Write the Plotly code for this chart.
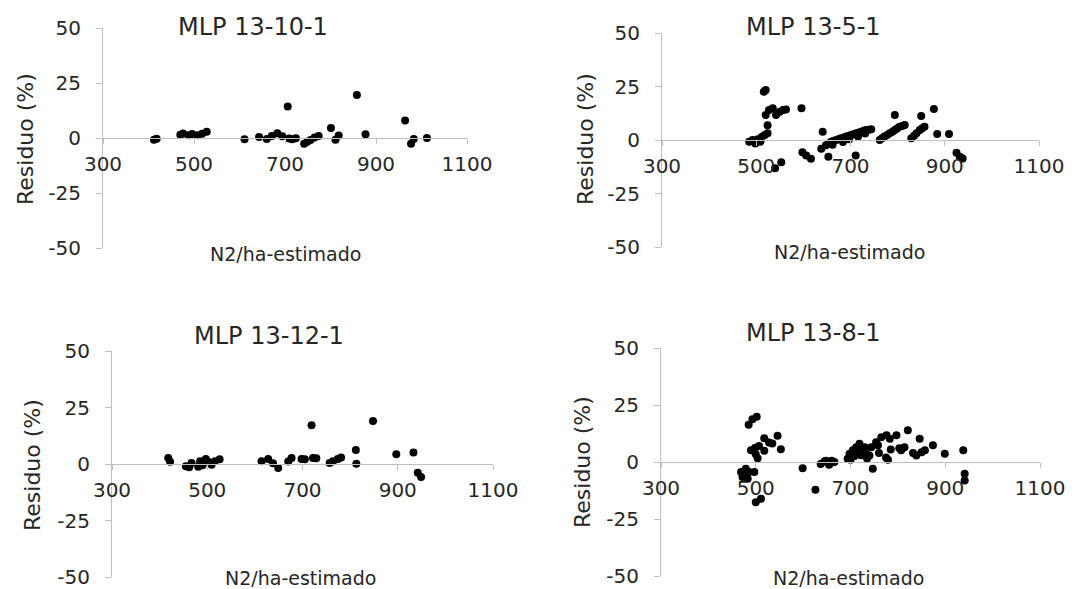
import plotly.graph_objects as go

# ---------------- data ----------------
titles = ["MLP 13-10-1", "MLP 13-5-1", "MLP 13-12-1", "MLP 13-8-1"]
x_label = "N2/ha-estimado"
y_label = "Residuo (%)"
x_ticks = [300, 500, 700, 900, 1100]
y_ticks = [-50, -25, 0, 25, 50]

x_1310 = [412, 418, 470, 476, 488, 496, 508, 518, 528, 611, 643, 660, 671, 683, 694, 706, 709,
          716, 724, 742, 749, 756, 765, 774, 801, 811, 818, 858, 877, 964, 977, 983, 1012]
y_1310 = [-0.8, -0.3, 1.5, 2.0, 1.3, 1.8, 1.2, 1.9, 2.8, -0.6, 0.4, -0.4, 0.9, 2.2, 0.8, 14.3, -0.2,
          -0.6, -0.1, -2.6, -1.7, -0.9, 0.2, 0.9, 4.6, -0.8, 1.1, 19.6, 1.7, 7.9, -2.6, -0.4, 0.0]

x_135 = [485, 492, 498, 503, 509, 512, 518, 524, 524, 520, 527, 535, 542, 550, 557, 563, 516, 520,
         540, 553, 596, 598, 606, 616, 638, 641, 648, 653, 655, 659, 664, 670, 675, 680, 686, 691,
         696, 701, 706, 711, 712, 718, 723, 728, 733, 739, 744, 762, 767, 772, 778, 783, 789, 794,
         799, 804, 810, 815, 794, 829, 835, 840, 847, 852, 857, 850, 877, 884, 909, 925, 932, 938,
         662, 684, 697, 716, 731]
y_135 = [-0.8, 0.0, -1.6, 0.3, -0.8, 1.5, 2.3, 3.1, 6.9, 11.7, 14.0, 14.8, 11.7, 13.2, 14.0, 14.3,
         22.6, 23.4, -13.2, -10.4, 14.8, -5.7, -7.2, -8.8, -4.1, 3.9, -2.5, -7.8, -1.5, -0.8, -0.3,
         0.0, 0.5, 0.8, 1.2, 1.6, 1.9, 2.3, 2.7, -7.2, 3.1, 3.5, 3.9, 4.3, 4.7, 4.8, 5.0, 0.0, 0.8,
         1.6, 2.3, 3.1, 3.9, 4.7, 5.4, 6.2, 6.6, 7.0, 11.7, 0.8, 2.0, 3.1, 4.7, 5.5, 6.2, 11.2, 14.5,
         2.8, 2.8, -5.9, -7.8, -8.6,
         -2.2, -0.9, 0.4, 1.6, 3.0]

x_1312 = [418, 422, 455, 462, 467, 481, 485, 490, 497, 503, 509, 516, 526, 614, 628, 638, 649, 670,
          677, 698, 705, 719, 722, 729, 757, 764, 774, 781, 812, 813, 848, 897, 933, 942, 949]
y_1312 = [2.6, 1.0, -1.0, -1.4, 0.4, -1.2, 1.2, -0.5, 2.2, 0.9, -0.3, 1.2, 2.1, 1.2, 2.2, 0.3, -1.8,
          1.1, 2.6, 2.2, 2.1, 17.1, 2.6, 2.5, 0.4, 1.2, 2.2, 2.9, 6.2, 0.1, 19.0, 4.3, 5.1, -3.9, -5.7]

x_138 = [469, 472, 476, 479, 483, 486, 497, 485, 493, 502, 490, 499, 500, 504, 507, 518, 518, 528,
         535, 546, 553, 500, 511, 599, 626, 637, 645, 648, 655, 660, 666, 694, 698, 700, 705, 708,
         712, 716, 719, 722, 726, 730, 733, 735, 740, 744, 747, 754, 758, 760, 765, 776, 775, 779,
         783, 785, 797, 803, 807, 814, 821, 832, 839, 846, 850, 857, 874, 899, 938, 941, 941]
y_138 = [-4.4, -6.6, -5.1, -3.0, -7.3, -4.4, -4.4, 16.3, 18.8, 19.8, 5.1, 6.2, 3.4, 1.6, 7.0, 10.4,
         4.9, 8.5, 8.1, 11.5, 5.6, -17.6, -16.1, -2.7, -12.2, -0.9, 0.2, 0.6, -1.2, 0.5, 0.0, 1.4,
         3.6, 1.0, 5.1, 2.5, 6.5, 4.0, 8.0, 3.0, 5.1, 6.5, 3.6, 1.5, 2.9, 6.5, -3.0, 8.7, 7.3, 4.0,
         10.9, 11.7, 2.0, 1.0, 10.2, 5.5, 11.7, 6.0, 5.1, 6.5, 13.9, 4.0, 2.9, 10.2, 4.3, 5.1, 7.3,
         3.6, 5.1, -5.2, -8.1]

series = [(x_1310, y_1310), (x_135, y_135), (x_1312, y_1312), (x_138, y_138)]

# ---------------- layout (pixel geometry) ----------------
W, H = 1075, 589
FONT = "DejaVu Sans"
TXT = "#262626"
AX = "#BFBFBF"

panels = [
    dict(xd=(103, 467), yd=(28, 248), title=(253, 27), xt=(285, 254), yt=(25, 139)),
    dict(xd=(662, 1039), yd=(33, 247), title=(813, 27), xt=(849, 252), yt=(585, 139)),
    dict(xd=(112, 493), yd=(351, 577), title=(269, 336), xt=(300, 578), yt=(32, 465)),
    dict(xd=(661, 1040), yd=(348, 576), title=(813, 333), xt=(848, 578), yt=(582, 462)),
]

fig = go.Figure()
annotations = []
for i, (p, (xs, ys), t) in enumerate(zip(panels, series, titles), start=1):
    sfx = "" if i == 1 else str(i)
    xa, ya = "x" + sfx, "y" + sfx
    fig.add_trace(go.Scatter(x=xs, y=ys, mode="markers", xaxis=xa, yaxis=ya,
                             marker=dict(color="black", size=8, line=dict(width=0)),
                             cliponaxis=False, showlegend=False, hoverinfo="skip"))
    xdom = [p["xd"][0] / W, p["xd"][1] / W]
    ydom = [1 - p["yd"][1] / H, 1 - p["yd"][0] / H]
    yr = [y_ticks[0], y_ticks[-1]]
    zero_pos = ydom[0] + (0 - yr[0]) / (yr[1] - yr[0]) * (ydom[1] - ydom[0])
    fig.update_layout(**{
        "xaxis" + sfx: dict(domain=xdom, range=[x_ticks[0], x_ticks[-1]], anchor="free",
                            position=zero_pos, tickmode="array", tickvals=x_ticks,
                            ticktext=[str(v) for v in x_ticks], automargin=False,
                            showline=True, linecolor=AX, linewidth=1, ticks="outside",
                            ticklen=5, tickcolor=AX, showgrid=False, zeroline=False,
                            ticklabelstandoff=3,
                            tickfont=dict(family=FONT, size=20, color=TXT)),
        "yaxis" + sfx: dict(domain=ydom, range=yr, anchor=xa, tickmode="array",
                            tickvals=y_ticks, ticktext=[str(v) for v in y_ticks],
                            automargin=False,
                            showline=True, linecolor=AX, linewidth=1, ticks="outside",
                            ticklen=6, tickcolor=AX, showgrid=False, zeroline=False,
                            ticklabelstandoff=11,
                            tickfont=dict(family=FONT, size=20, color=TXT)),
    })
    annotations.append(dict(text=t, x=p["title"][0] / W, y=1 - p["title"][1] / H,
                            xref="paper", yref="paper", showarrow=False,
                            xanchor="center", yanchor="middle",
                            font=dict(family=FONT, size=24, color=TXT)))
    annotations.append(dict(text=x_label, x=p["xt"][0] / W, y=1 - p["xt"][1] / H,
                            xref="paper", yref="paper", showarrow=False,
                            xanchor="center", yanchor="middle",
                            font=dict(family=FONT, size=19, color=TXT)))
    annotations.append(dict(text=y_label, x=p["yt"][0] / W, y=1 - p["yt"][1] / H,
                            xref="paper", yref="paper", showarrow=False, textangle=-90,
                            xanchor="center", yanchor="middle",
                            font=dict(family=FONT, size=22, color=TXT)))

fig.update_layout(width=W, height=H, margin=dict(l=0, r=0, t=0, b=0, pad=0, autoexpand=False),
                  paper_bgcolor="white", plot_bgcolor="white",
                  annotations=annotations, showlegend=False)

fig.write_html("out.html")
